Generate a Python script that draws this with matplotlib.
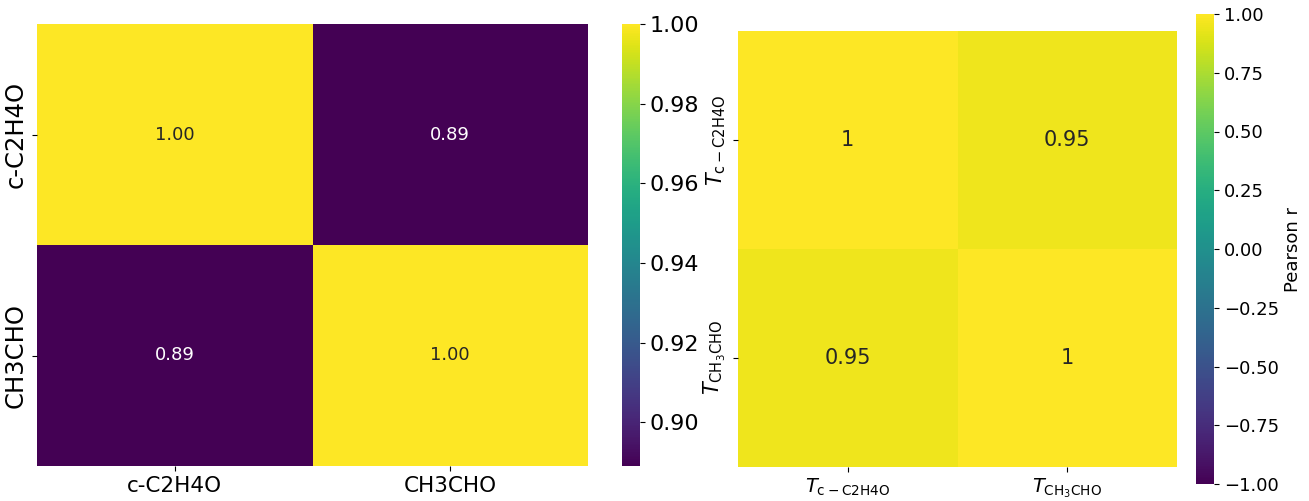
import numpy as np
import pandas as pd
import matplotlib
matplotlib.use('Agg')
import matplotlib.pyplot as plt
import seaborn as sns

# species and correlation matrices
species = ['c-C2H4O', 'CH3CHO']
corr_abund = [[1.00, 0.889],
              [0.889, 1.00]]

temp_labels = [r'$T_{\mathrm{c-C2H4O}}$', r'$T_{\mathrm{CH_3CHO}}$']
corr_temp = [[1.00, 0.95],
             [0.95, 1.00]]

plt.rcParams['font.family'] = ['DejaVu Sans']

W, H = 1309, 501
fig = plt.figure(figsize=(W / 100, H / 100), dpi=100)

def box(x0, y0, x1, y1):
    # pixel box -> figure fraction
    return [x0 / W, 1 - y1 / H, (x1 - x0) / W, (y1 - y0) / H]

######## left: abundance correlation ########
ax1 = fig.add_axes(box(37, 24, 588, 466))
cax1 = fig.add_axes(box(622, 24, 640, 466))
df1 = pd.DataFrame(corr_abund, index=species, columns=species)
sns.heatmap(df1, ax=ax1, cbar_ax=cax1, cmap='viridis', annot=True, fmt='.2f',
            annot_kws={'fontsize': 13})
ax1.tick_params(axis='x', labelsize=15.5)
ax1.tick_params(axis='y', labelsize=17.5)
cax1.tick_params(labelsize=16)

######## right: temperature correlation ########
ax2 = fig.add_axes(box(738, 31, 1177, 467))
cax2 = fig.add_axes(box(1196, 14, 1214, 484))
df2 = pd.DataFrame(corr_temp, index=temp_labels, columns=temp_labels)
sns.heatmap(df2, ax=ax2, cbar_ax=cax2, cmap='viridis', vmin=-1, vmax=1,
            annot=True, annot_kws={'fontsize': 15},
            cbar_kws={'label': 'Pearson r'})
ax2.tick_params(axis='x', labelsize=14)
ax2.tick_params(axis='y', labelsize=15)
cax2.tick_params(labelsize=13)
cax2.set_ylabel('Pearson r', fontsize=13)

plt.savefig('out.png', dpi=100)
